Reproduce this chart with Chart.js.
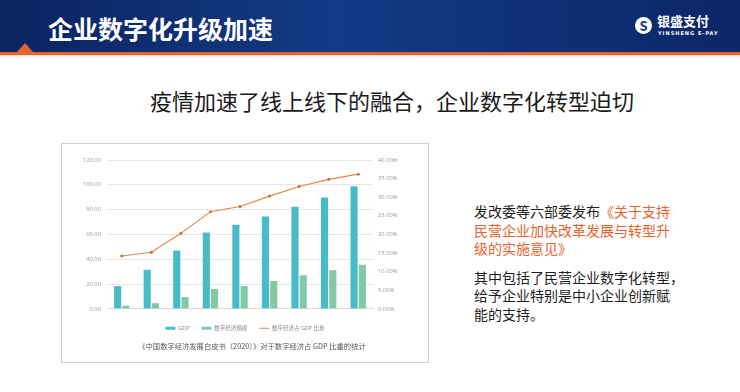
<!DOCTYPE html>
<html><head><meta charset="utf-8">
<script src="https://cdn.jsdelivr.net/npm/chart.js@4/dist/chart.umd.min.js"></script>
<style>
html,body{margin:0;padding:0;background:#fff;}
body{width:740px;height:392px;position:relative;overflow:hidden;font-family:"Noto Sans CJK SC","Noto Sans",sans-serif;}
#hdr{position:absolute;left:0;top:0;width:740px;height:52px;background:linear-gradient(90deg,#0b2360 0%,#123a85 45%,#0f3078 70%,#0c2766 100%);}
#bar{position:absolute;left:0;top:52px;width:740px;height:3px;background:#e2652d;}
#shadow{position:absolute;left:0;top:55px;width:740px;height:3px;background:linear-gradient(#f3d9cc,#fff);}
#title{position:absolute;left:48px;top:10px;font-size:25px;font-weight:bold;color:#fff;letter-spacing:0px;line-height:36px;white-space:nowrap;}
#tri{position:absolute;left:17px;top:43px;width:0;height:0;border-left:8px solid transparent;border-right:8px solid transparent;border-bottom:9px solid #e2652d;}
#logoC{position:absolute;left:635px;top:17px;width:17px;height:17px;border-radius:50%;background:#fff;color:#123a85;font-weight:bold;font-size:13px;line-height:17px;text-align:center;}
#logoT{position:absolute;left:657px;top:13px;font-size:13px;font-weight:bold;color:#fff;line-height:16px;white-space:nowrap;}
#logoE{position:absolute;left:658px;top:30px;font-size:5px;color:#fff;letter-spacing:1px;line-height:6px;white-space:nowrap;font-family:"DejaVu Sans",sans-serif;font-weight:bold;}
#sub{position:absolute;left:150px;top:86px;font-size:22px;color:#1b1b1b;line-height:28px;white-space:nowrap;}
#box{position:absolute;left:61px;top:143px;width:366px;height:218px;border:1px solid #cfcfcf;}
#cv{position:absolute;left:62px;top:143px;width:366px;height:200px;}
#cap{position:absolute;left:62px;top:340px;width:380px;text-align:center;font-size:7.3px;color:#555;line-height:12px;white-space:nowrap;}
#txt{position:absolute;left:474px;top:202px;font-size:14px;color:#1e1e1e;line-height:18.5px;white-space:nowrap;}
#txt .o{color:#e8632b;}
</style></head>
<body>
<div id="hdr"></div>
<div id="bar"></div>
<div id="shadow"></div>
<div id="tri"></div>
<div id="title">企业数字化升级加速</div>
<div id="logoC">S</div>
<div id="logoT">银盛支付</div>
<div id="logoE">YINSHENG E-PAY</div>
<div id="sub">疫情加速了线上线下的融合，企业数字化转型迫切</div>
<div id="box"></div>
<div id="cv"><canvas id="c" width="366" height="200"></canvas></div>
<div id="cap">《中国数字经济发展白皮书（2020）》对于数字经济占 GDP 比重的统计</div>
<div id="txt">发改委等六部委发布<span class="o">《关于支持</span><br><span class="o">民营企业加快改革发展与转型升</span><br><span class="o">级的实施意见》</span><div style="height:10px"></div>其中包括了民营企业数字化转型，<br>给予企业特别是中小企业创新赋<br>能的支持。</div>
<script>
const years = ['2005','2008','2011','2014','2015','2016','2017','2018','2019'];
const gdp = [18.4, 31.5, 47.0, 61.5, 67.8, 74.5, 82.3, 89.8, 98.8];
const digital = [2.6, 4.6, 9.5, 16.0, 18.4, 22.5, 27.1, 31.2, 35.6];
const ratio = [14.2, 15.2, 20.3, 26.1, 27.5, 30.3, 32.9, 34.8, 36.2];
const labels = ['GDP', '数字经济规模', '数字经济占 GDP 比重'];

const F = '"Open Sans","Noto Sans CJK SC",sans-serif';
new Chart(document.getElementById('c'), {
  data: {
    labels: years,
    datasets: [
      {type:'bar', label: labels[0], data: gdp, backgroundColor:'#47bcc9', yAxisID:'y', categoryPercentage:0.56, barPercentage:0.86, order:2},
      {type:'bar', label: labels[1], data: digital, backgroundColor:'#82c9a6', yAxisID:'y', categoryPercentage:0.56, barPercentage:0.86, order:2},
      {type:'line', label: labels[2], data: ratio, borderColor:'#e2884a', backgroundColor:'#e2884a', borderWidth:1.1, pointRadius:1.5, pointBackgroundColor:'#c9703a', pointBorderWidth:0, yAxisID:'y1', order:1, tension:0}
    ]
  },
  options: {
    responsive:false, animation:false, devicePixelRatio:1,
    layout:{padding:{top:17,bottom:2,left:0,right:0}},
    plugins:{
      tooltip:{enabled:false},
      legend:{position:'bottom', labels:{
        font:{family:F,size:5.5}, color:'#888', padding:12, usePointStyle:true, pointStyleWidth:10, boxHeight:5,
        generateLabels(chart){
          return chart.data.datasets.map((ds,i)=>({text:ds.label, pointStyle:'line', strokeStyle: ds.type==='line'?ds.borderColor:ds.backgroundColor, fillStyle: ds.type==='line'?ds.borderColor:ds.backgroundColor, lineWidth: ds.type==='line'?1:3, datasetIndex:i, hidden:false, fontColor:'#888'}));
        }
      }}
    },
    scales:{
      x:{grid:{display:false}, border:{display:true,color:'#d9d9d9'}, ticks:{font:{family:F,size:5.8}, color:'#888', padding:4},
         afterFit(s){s.height=4.6;}},
      y:{position:'left', min:0, max:120, ticks:{stepSize:20, font:{family:F,size:5.8}, color:'#999', padding:6, callback:v=>v.toFixed(2)},
         grid:{color:'#e6e6e6', drawTicks:false}, border:{display:false}, afterFit(s){s.width=45;}},
      y1:{position:'right', min:0, max:40, ticks:{stepSize:5, font:{family:F,size:5.8}, color:'#999', padding:5, callback:v=>v.toFixed(2)+'%'},
         grid:{display:false, drawTicks:false}, border:{display:false}, afterFit(s){s.width=55;}}
    }
  }
});
</script>
</body></html>
